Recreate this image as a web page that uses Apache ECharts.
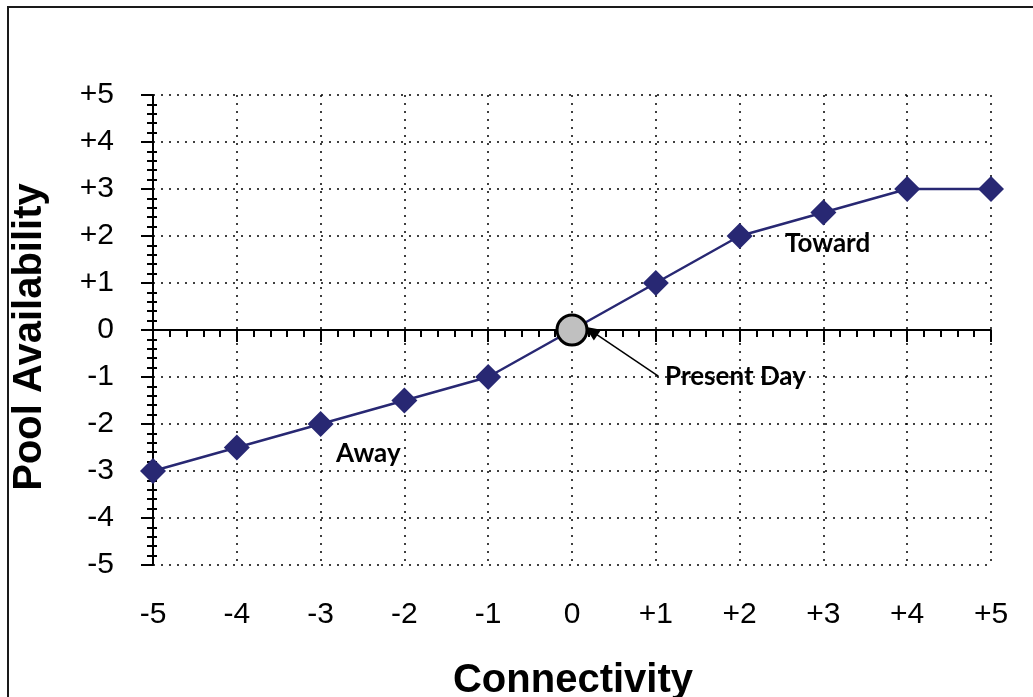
<!DOCTYPE html>
<html>
<head>
<meta charset="utf-8">
<script src="https://cdn.jsdelivr.net/npm/echarts@6/dist/echarts.min.js"></script>
<style>
  html, body { margin: 0; padding: 0; background: #fff; }
  #main { width: 1033px; height: 697px; }
</style>
</head>
<body>
<div id="main"></div>
<script>
// connectivity steps and pool availability readings
var connectivity = [-5, -4, -3, -2, -1, 0, 1, 2, 3, 4, 5];
var poolAvailability = [-3, -2.5, -2, -1.5, -1, 0, 1, 2, 2.5, 3, 3];
var presentDayIndex = 5;

// text notes placed in data space
var noteNames = ['Toward', 'Away'];
var noteCoords = [[3.05, 1.83], [-2.43, -2.62]];
var presentDayLabel = 'Present Day';
var presentDayLabelCoord = [1.11, -1.0];
var arrowFrom = [1.03, -0.98];
var arrowTo = [0.23, -0.02];

var navy = '#282873';
var tickFont = 'Liberation Sans, Arial, sans-serif';
var noteFont = 'Lato, Open Sans, sans-serif';

function signed(v) {
  return v > 0 ? '+' + v : '' + v;
}

var seriesData = [];
for (var i = 0; i < connectivity.length; i++) {
  if (i == presentDayIndex) {
    seriesData.push({
      value: [connectivity[i], poolAvailability[i]],
      symbol: 'circle',
      symbolSize: 30,
      itemStyle: { color: '#c0c0c0', borderColor: '#000', borderWidth: 3 }
    })
  } else {
    seriesData.push([connectivity[i], poolAvailability[i]])
  }
}

var notes = [];
for (var k = 0; k < noteNames.length; k++) {
  notes.push({ name: noteNames[k], coord: noteCoords[k] })
}
notes.push({
  name: presentDayLabel,
  coord: presentDayLabelCoord,
  label: { align: 'left' }
})

var dotted = { type: [2, 6], color: '#000', width: 1.5 };

var chart = echarts.init(document.getElementById('main'));
var option = {
  animation: false,
  backgroundColor: '#fff',
  grid: { left: 153, right: 42, top: 95, bottom: 132, containLabel: false },
  graphic: [
    {
      type: 'rect',
      shape: { x: 8, y: 7, width: 1100, height: 800 },
      style: { fill: 'none', stroke: '#1a1a1a', lineWidth: 2 },
      silent: true
    },
    {
      type: 'text',
      x: 30, y: 337,
      rotation: Math.PI / 2,
      style: {
        text: 'Pool Availability',
        font: 'bold 40px Liberation Sans, Arial, sans-serif',
        fill: '#000', align: 'center', verticalAlign: 'middle'
      }
    },
    {
      type: 'text',
      x: 573, y: 681,
      style: {
        text: 'Connectivity',
        font: 'bold 40px Liberation Sans, Arial, sans-serif',
        fill: '#000', align: 'center', verticalAlign: 'middle'
      }
    }
  ],
  xAxis: [
    {
      // labels + vertical grid
      type: 'value', min: -5, max: 5, interval: 1,
      position: 'bottom',
      axisLine: { show: false, onZero: false },
      axisTick: { show: false },
      axisLabel: {
        margin: 35, fontSize: 30, fontFamily: tickFont, color: '#000',
        formatter: signed
      },
      splitLine: { show: true, lineStyle: dotted }
    },
    {
      // solid axis through zero
      type: 'value', min: -5, max: 5, interval: 1,
      position: 'top',
      axisLine: { show: true, onZero: true, lineStyle: { color: '#000', width: 2 } },
      axisTick: { show: true, inside: true, length: 12, lineStyle: { color: '#000', width: 2 } },
      minorTick: { show: true, splitNumber: 5, length: 7, lineStyle: { color: '#000', width: 2 } },
      axisLabel: { show: false },
      splitLine: { show: false }
    }
  ],
  yAxis: [
    {
      type: 'value', min: -5, max: 5, interval: 1,
      position: 'left',
      axisLine: { show: true, onZero: false, lineStyle: { color: '#000', width: 2 } },
      axisTick: { show: true, length: 12, lineStyle: { color: '#000', width: 2 } },
      minorTick: { show: true, splitNumber: 5, length: 6, lineStyle: { color: '#000', width: 2 } },
      axisLabel: {
        margin: 39, fontSize: 30, fontFamily: tickFont, color: '#000',
        formatter: signed
      },
      splitLine: { show: true, lineStyle: dotted }
    },
    {
      // inner half of the minor ticks on the left axis
      type: 'value', min: -5, max: 5, interval: 1,
      position: 'right',
      offset: -838,
      axisLine: { show: false, onZero: false },
      axisTick: { show: false },
      minorTick: { show: true, splitNumber: 5, length: 4, lineStyle: { color: '#000', width: 2 } },
      axisLabel: { show: false },
      splitLine: { show: false }
    }
  ],
  series: [
    {
      type: 'line',
      xAxisIndex: 0,
      yAxisIndex: 0,
      data: seriesData,
      symbol: 'diamond',
      symbolSize: 26,
      lineStyle: { color: navy, width: 2.5 },
      itemStyle: { color: navy },
      z: 5,
      markLine: {
        silent: true,
        symbol: ['none', 'triangle'],
        symbolSize: [13, 15],
        lineStyle: { color: '#000', width: 1.5, type: 'solid' },
        label: { show: false },
        data: [[{ coord: arrowFrom }, { coord: arrowTo }]]
      },
      markPoint: {
        silent: true,
        symbol: 'circle',
        symbolSize: 0,
        label: {
          show: true,
          position: 'inside',
          formatter: '{b}',
          fontFamily: noteFont,
          fontWeight: 'bold',
          fontSize: 26,
          color: '#000'
        },
        data: notes
      }
    }
  ]
};
chart.setOption(option);
</script>
</body>
</html>
